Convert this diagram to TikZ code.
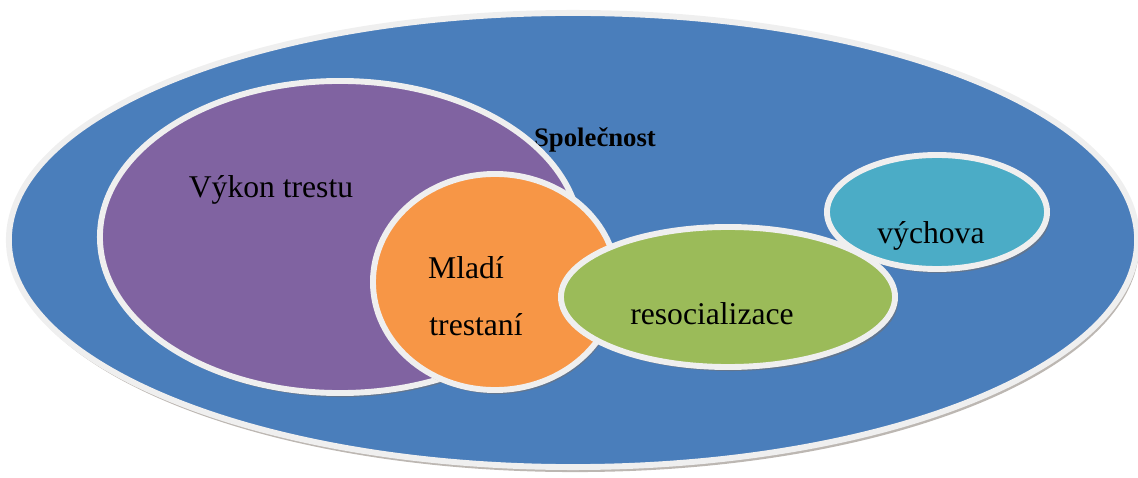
\documentclass[tikz,border=0pt]{standalone}
\usepackage{fontspec}
\setmainfont{Liberation Serif}
\usetikzlibrary{shapes.geometric}

\definecolor{spolblue}{HTML}{4A7EBB}
\definecolor{vykpurple}{HTML}{8063A1}
\definecolor{mlorange}{HTML}{F79646}
\definecolor{resgreen}{HTML}{9BBB59}
\definecolor{vychcyan}{HTML}{4BACC6}
\definecolor{rimgray}{HTML}{EFEFEF}
\definecolor{edgebrown}{HTML}{7A6F66}

\begin{document}
\begin{tikzpicture}[x=0.025cm, y=-0.025cm,
    blob/.style={ellipse, draw=rimgray, line width=4.2pt, inner sep=0pt},
    rim/.style={ellipse, fill=edgebrown, inner sep=0pt, opacity=0.5},
    lbl/.style={font=\fontsize{22.5}{27}\selectfont}]
    \useasboundingbox (0,0) rectangle (1138,478);

    % spolecnost
    \node[rim, minimum width=28.2cm, minimum height=11.35cm] (spolrim) at (575,245) {};
    \node[blob, fill=spolblue, minimum width=28.2cm, minimum height=11.35cm] (spol) at (573,240) {};
    \node[font=\bfseries\fontsize{19}{23}\selectfont] (spoltxt) at (595,140) {Společnost};

    % vykon trestu
    \node[rim, minimum width=12cm, minimum height=7.8cm] (vykrim) at (342,241) {};
    \node[blob, fill=vykpurple, minimum width=12cm, minimum height=7.8cm] (vyk) at (340,237) {};
    \node[lbl] (vyktxt) at (271,190) {Výkon trestu};

    % mladi trestani
    \node[rim, minimum width=6.1cm, minimum height=5.4cm] (mlrim) at (497,286) {};
    \node[blob, fill=mlorange, minimum width=6.1cm, minimum height=5.4cm] (ml) at (495,282) {};
    \node[lbl] (mltxt1) at (466,268) {Mladí};
    \node[lbl] (mltxt2) at (476,325) {trestaní};

    % vychova
    \node[rim, minimum width=5.5cm, minimum height=2.85cm] (vychrim) at (940,216) {};
    \node[blob, fill=vychcyan, minimum width=5.5cm, minimum height=2.85cm] (vych) at (937,212) {};
    \node[lbl] (vychtxt) at (931,236) {výchova};

    % resocializace
    \node[rim, minimum width=8.35cm, minimum height=3.5cm] (resrim) at (731,301) {};
    \node[blob, fill=resgreen, minimum width=8.35cm, minimum height=3.5cm] (res) at (728,297) {};
    \node[lbl] (restxt) at (712,314) {resocializace};
\end{tikzpicture}
\end{document}
